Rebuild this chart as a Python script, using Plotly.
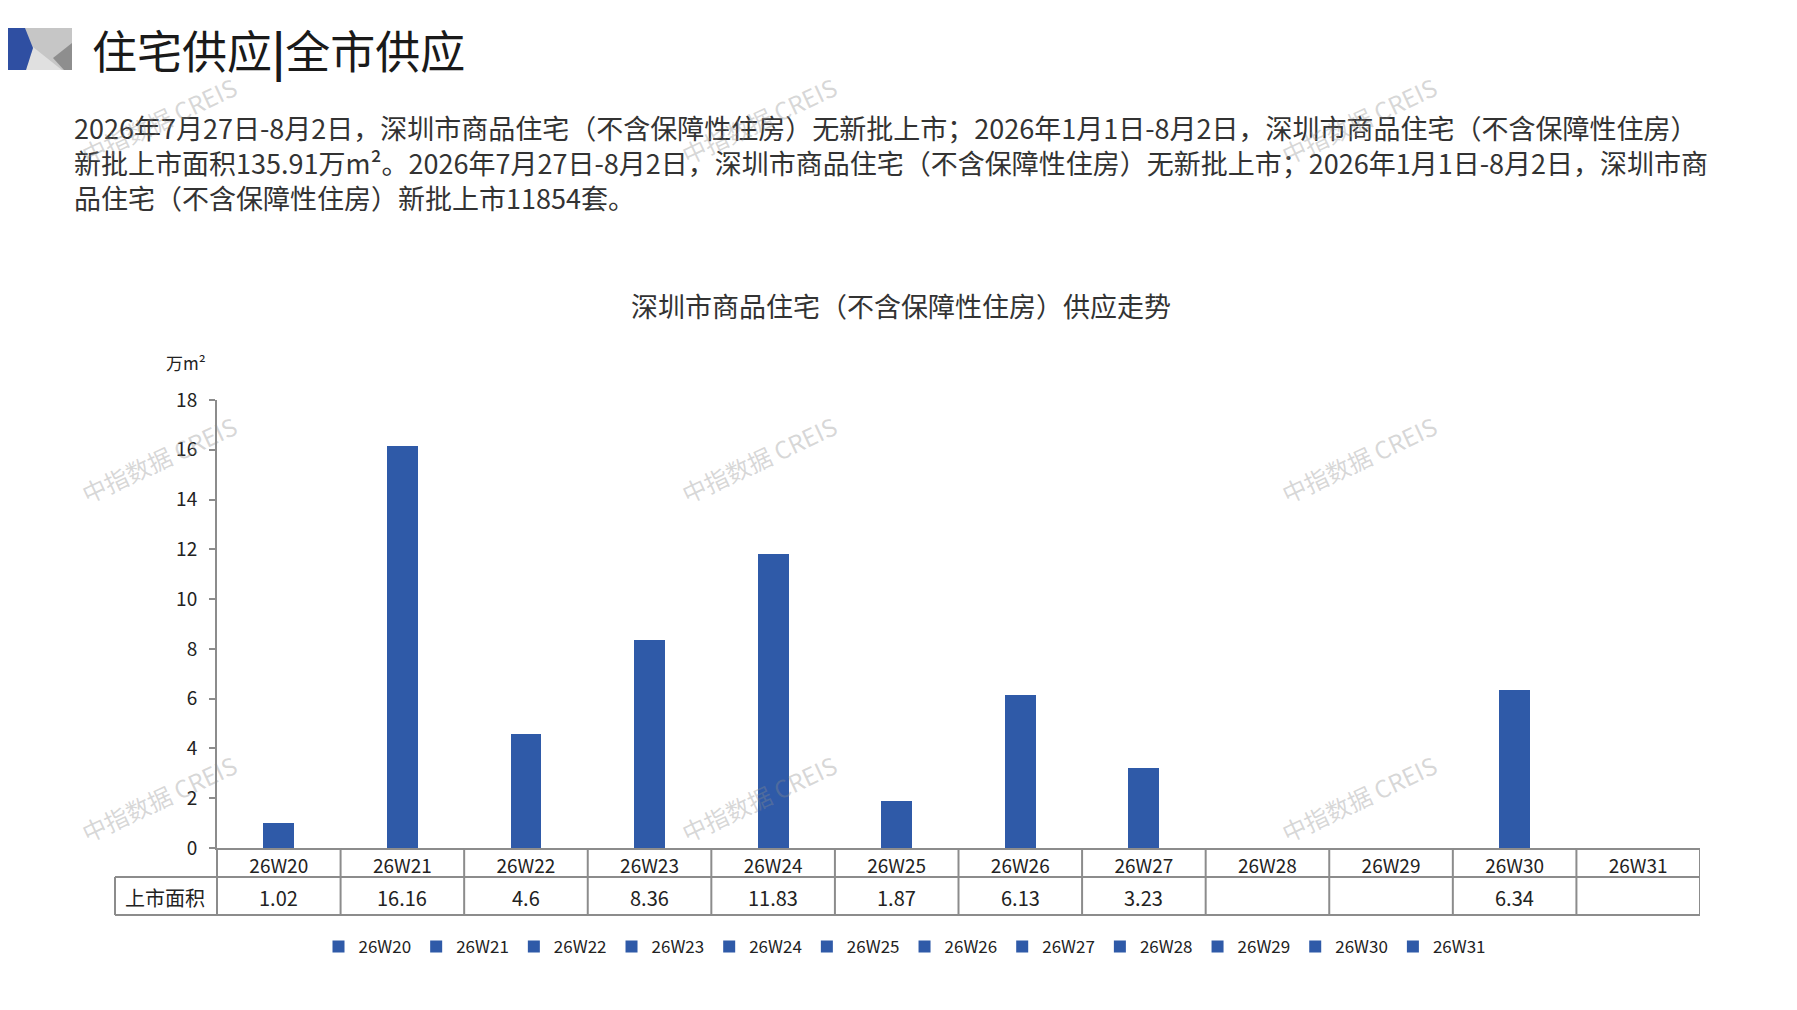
import plotly.graph_objects as go

# ---------------- data ----------------
weeks = ["26W20", "26W21", "26W22", "26W23", "26W24", "26W25",
         "26W26", "26W27", "26W28", "26W29", "26W30", "26W31"]
supply_area = [1.02, 16.16, 4.6, 8.36, 11.83, 1.87, 6.13, 3.23, None, None, 6.34, None]
row_label = "上市面积"
y_ticks = [0, 2, 4, 6, 8, 10, 12, 14, 16, 18]
unit_label = "万m²"
chart_title = "深圳市商品住宅（不含保障性住房）供应走势"
page_title = "住宅供应<b>|</b>全市供应"
paragraph_lines = [
    "2026年7月27日-8月2日，深圳市商品住宅（不含保障性住房）无新批上市；2026年1月1日-8月2日，深圳市商品住宅（不含保障性住房）",
    "新批上市面积135.91万m²。2026年7月27日-8月2日，深圳市商品住宅（不含保障性住房）无新批上市；2026年1月1日-8月2日，深圳市商",
    "品住宅（不含保障性住房）新批上市11854套。",
]
watermark = "中指数据 CREIS"

# ---------------- layout geometry (page pixels) ----------------
PAGE_W, PAGE_H = 1797, 1010
OFF = 8                      # default body margin of the html page
W, H = PAGE_W - OFF, PAGE_H - OFF
PLOT_L, PLOT_R, PLOT_T, PLOT_B = 217, 1700, 400, 848   # page coords of plot area
PW, PH = PLOT_R - PLOT_L, PLOT_B - PLOT_T
FONT = "Noto Sans CJK SC"
BAR = "#2F5AA8"
GRID = "#8C8C8C"


def px(x):
    return (x - PLOT_L) / PW


def py(y):
    return (PLOT_B - y) / PH


fig = go.Figure()
for wk, v in zip(weeks, supply_area):
    fig.add_trace(go.Bar(x=[wk], y=[v], name=wk, marker_color=BAR,
                         marker_line_width=0, showlegend=True))

shapes = []
annotations = []

# logo
shapes += [
    dict(type="path", xref="paper", yref="paper",
         path=f"M{px(22)},{py(28)} L{px(72)},{py(28)} L{px(72)},{py(70)} L{px(22)},{py(70)} Z",
         fillcolor="#C6C6C6", line_width=0, layer="above"),
    dict(type="path", xref="paper", yref="paper",
         path=f"M{px(33)},{py(47)} L{px(62)},{py(70)} L{px(26)},{py(70)} Z",
         fillcolor="#E0E0E0", line_width=0, layer="above"),
    dict(type="path", xref="paper", yref="paper",
         path=f"M{px(53)},{py(58)} L{px(72)},{py(43)} L{px(72)},{py(70)} L{px(64)},{py(70)} Z",
         fillcolor="#8E8E8E", line_width=0, layer="above"),
    dict(type="path", xref="paper", yref="paper",
         path=f"M{px(0)},{py(28)} L{px(25)},{py(28)} L{px(33)},{py(48)} L{px(26)},{py(70)} L{px(0)},{py(70)} Z",
         fillcolor="#2F4FA2", line_width=0, layer="above"),
]

# data table lines
n = len(weeks)
line = dict(color=GRID, width=2)
for yy in (877, 915):
    shapes.append(dict(type="line", xref="paper", yref="paper", x0=px(115), x1=1,
                       y0=py(yy), y1=py(yy), line=line))
shapes.append(dict(type="line", xref="paper", yref="paper", x0=px(115), x1=px(115),
                   y0=py(877), y1=py(915), line=line))
shapes.append(dict(type="line", xref="paper", yref="paper", x0=0, x1=0,
                   y0=0, y1=py(915), line=line))
for k in range(n):
    xb = k + 0.5
    shapes.append(dict(type="line", xref="x", yref="paper", x0=xb, x1=xb,
                       y0=0, y1=py(915), line=line))

# table values row
annotations.append(dict(text=row_label, xref="paper", yref="paper",
                        x=px(165), y=py(897), xanchor="center", yanchor="middle",
                        showarrow=False, font=dict(family=FONT, size=20, color="#222")))
for wk, v in zip(weeks, supply_area):
    annotations.append(dict(text="" if v is None else f"{v:g}", xref="x", yref="paper",
                            x=wk, y=py(897), xanchor="center", yanchor="middle",
                            showarrow=False, font=dict(family=FONT, size=20, color="#222")))

# titles and paragraph
annotations.append(dict(text=page_title, xref="paper", yref="paper",
                        x=px(90), y=py(49), xanchor="left", yanchor="middle",
                        showarrow=False, font=dict(family=FONT, size=45, color="#1A1A1A")))
annotations.append(dict(text="<br>".join(paragraph_lines), xref="paper", yref="paper",
                        x=px(72), y=py(163), xanchor="left", yanchor="middle", align="left",
                        showarrow=False, font=dict(family=FONT, size=27, color="#333")))
annotations.append(dict(text=chart_title, xref="paper", yref="paper",
                        x=px(901), y=py(305), xanchor="center", yanchor="middle",
                        showarrow=False, font=dict(family=FONT, size=27, color="#333")))
annotations.append(dict(text=unit_label, xref="paper", yref="paper",
                        x=px(186), y=py(362), xanchor="center", yanchor="middle",
                        showarrow=False, font=dict(family=FONT, size=17, color="#222")))

# watermarks
for wx in (158, 758, 1358):
    for wy in (120, 459, 798):
        annotations.append(dict(text=watermark, xref="paper", yref="paper",
                                x=px(wx), y=py(wy), xanchor="center", yanchor="middle",
                                showarrow=False, textangle=-25,
                                font=dict(family=FONT, size=24, color="rgba(140,140,140,0.35)")))

fig.update_layout(
    width=W, height=H,
    margin=dict(l=PLOT_L - OFF, r=W - (PLOT_R - OFF), t=PLOT_T - OFF, b=H - (PLOT_B - OFF), pad=0),
    paper_bgcolor="white", plot_bgcolor="white",
    barmode="stack", bargap=0.75,
    font=dict(family=FONT, color="#222"),
    showlegend=True,
    legend=dict(orientation="h", x=px(905), xanchor="center", y=py(947), yanchor="middle",
                font=dict(family=FONT, size=17, color="#222"), itemwidth=30,
                traceorder="normal", tracegroupgap=0, bgcolor="rgba(0,0,0,0)"),
    xaxis=dict(type="category", range=[-0.5, n - 0.5], showline=True, linecolor=GRID,
               linewidth=2, showgrid=False, ticks="", zeroline=False,
               tickfont=dict(family=FONT, size=19, color="#222"), ticklabelstandoff=0,
               fixedrange=True),
    yaxis=dict(range=[0, 18], tickvals=y_ticks, showline=True, linecolor=GRID, linewidth=2,
               showgrid=False, zeroline=False, ticks="outside", ticklen=6, tickcolor=GRID,
               tickwidth=2, ticklabelstandoff=8,
               tickfont=dict(family=FONT, size=19, color="#222"), fixedrange=True),
    shapes=shapes, annotations=annotations,
)

fig.write_html("out.html")
